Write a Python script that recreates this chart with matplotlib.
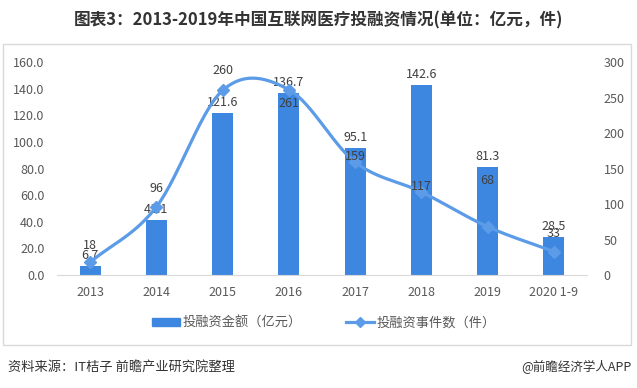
import numpy as np
import matplotlib
matplotlib.use("Agg")
import matplotlib.pyplot as plt
from matplotlib.patches import Rectangle
from matplotlib.lines import Line2D

plt.rcParams['font.family'] = ['Noto Sans CJK SC', 'DejaVu Sans']

categories = ["2013", "2014", "2015", "2016", "2017", "2018", "2019", "2020 1-9"]
amount = [6.7, 41.1, 121.6, 136.7, 95.1, 142.6, 81.3, 28.5]      # 亿元
events = [18, 96, 260, 261, 159, 117, 68, 33]                     # 件
bar_label_off = [(0, 3), (0, 3), (0, 3), (0, 3), (0, 3), (0, 3), (0, 3), (0, 3)]
line_label_off = [(0, 12), (0, 13), (0, 14), (0, -10), (0, 4), (0, 4), (0, 33), (0, 13)]

bar_color = "#3E87E0"
line_color = "#5B9BE8"
text_color = "#404040"

fig = plt.figure(figsize=(6.37, 3.88), dpi=100)
W, H = 637, 388

# outer frame
fig.patches.append(Rectangle((3 / W, 1 - 345 / H), 628 / W, 301 / H, transform=fig.transFigure,
                             fill=False, edgecolor="#D9D9D9", linewidth=1.0))

ax = fig.add_axes([57 / W, 1 - 275 / H, 530 / W, 213 / H])
ax2 = ax.twinx()

x = np.arange(len(categories))
ax.bar(x, amount, width=0.32, color=bar_color, zorder=2)
ax.set_xlim(-0.5, len(categories) - 0.5)
ax.set_ylim(0, 160)
ax.set_yticks(np.arange(0, 161, 20))
ax.set_yticklabels([f"{v:.1f}" for v in np.arange(0, 161, 20)])
ax.set_xticks(x)
ax.set_xticklabels(categories)

# smooth line (Catmull-Rom in data space)
def catmull(xs, ys, n=30):
    xs = np.asarray(xs, float); ys = np.asarray(ys, float)
    px = np.concatenate([[2 * xs[0] - xs[1]], xs, [2 * xs[-1] - xs[-2]]])
    py = np.concatenate([[ys[0]], ys, [ys[-1]]])
    py[0] = 2 * ys[0] - ys[1]; py[-1] = 2 * ys[-1] - ys[-2]
    ox, oy = [], []
    for i in range(1, len(px) - 2):
        t = np.linspace(0, 1, n, endpoint=(i == len(px) - 3))
        p0, p1, p2, p3 = py[i - 1], py[i], py[i + 1], py[i + 2]
        m1 = (p2 - p0) / 2; m2 = (p3 - p1) / 2
        if i == 1:
            m1 = (p2 - p1)
        if i == len(px) - 3:
            m2 = (p2 - p1)
        h00 = 2 * t**3 - 3 * t**2 + 1; h10 = t**3 - 2 * t**2 + t
        h01 = -2 * t**3 + 3 * t**2; h11 = t**3 - t**2
        oy.append(h00 * p1 + h10 * m1 + h01 * p2 + h11 * m2)
        ox.append(px[i] + t * (px[i + 1] - px[i]))
    return np.concatenate(ox), np.concatenate(oy)

sx, sy = catmull(x, events)
ax2.plot(sx, sy, color=line_color, linewidth=2.3, zorder=3, solid_capstyle="round")
ax2.plot(x, events, linestyle="none", marker="D", markersize=6, color=line_color, zorder=4)
ax2.set_ylim(0, 300)
ax2.set_yticks(np.arange(0, 301, 50))

for a in (ax, ax2):
    for s in a.spines.values():
        s.set_visible(False)
    a.tick_params(length=0, labelsize=9, colors="#595959")
ax.spines["bottom"].set_visible(True)
ax.spines["bottom"].set_color("#D9D9D9")
ax.tick_params(axis="y", pad=9)
ax2.tick_params(axis="y", pad=12)
ax.tick_params(axis="x", pad=8)

for xi, v, off in zip(x, amount, bar_label_off):
    ax.annotate(f"{v:.1f}", (xi, v), xytext=off, textcoords="offset points",
                ha="center", va="bottom", fontsize=9, color=text_color, zorder=5)
for xi, v, off in zip(x, events, line_label_off):
    ax2.annotate(f"{v}", (xi, v), xytext=off, textcoords="offset points",
                 ha="center", va="center", fontsize=9, color=text_color, zorder=5)

# legend
handles = [Rectangle((0, 0), 1, 1, color=bar_color),
           Line2D([0], [0], color=line_color, linewidth=2.3, marker="D", markersize=5)]
fig.legend(handles, ["投融资金额（亿元）", "投融资事件数（件）"], loc="center",
           bbox_to_anchor=(324 / W, 1 - 323 / H), ncol=2, frameon=False, fontsize=9.5,
           handlelength=2.1, handleheight=0.6, columnspacing=3.4, handletextpad=0.2,
           labelcolor="#595959")

fig.text(0.5, 1 - 20 / H, "图表3：2013-2019年中国互联网医疗投融资情况(单位：亿元，件)",
         ha="center", va="center", fontsize=12, fontweight="bold", color="#333333")
fig.text(8 / W, 1 - 367 / H, "资料来源：IT桔子 前瞻产业研究院整理", ha="left", va="center",
         fontsize=9.5, color="#333333")
fig.text(632 / W, 1 - 367 / H, "@前瞻经济学人APP", ha="right", va="center",
         fontsize=9, color="#333333")

fig.savefig("out.png", dpi=100)
